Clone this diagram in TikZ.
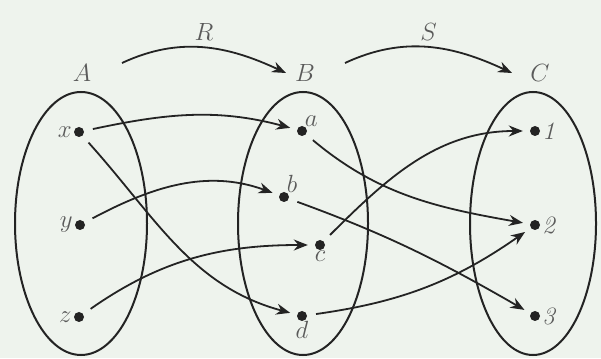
\documentclass[tikz,border=0pt]{standalone}
\usetikzlibrary{arrows.meta}
\definecolor{bg}{RGB}{238,243,237}
\definecolor{ink}{RGB}{35,35,35}
\begin{document}
\begin{tikzpicture}[x=1pt,y=1pt,
  set/.style={draw=ink,line width=2pt},
  pt/.style={circle,fill=ink,inner sep=0pt,minimum size=10pt},
  lab/.style={font=\fontsize{25}{30}\selectfont,text=ink!75},
  arr/.style={draw=ink,line width=1.8pt,-{Stealth[length=14pt,width=11pt]},shorten <=9pt,shorten >=7pt},
  every label/.style={lab,inner sep=2pt}]
\fill[bg] (0,0) rectangle (601,358);
\useasboundingbox (0,0) rectangle (601,358);
% sets
\draw[set] (81,134.5) ellipse [x radius=66,y radius=131.5];
\draw[set] (303,134.5) ellipse [x radius=65,y radius=131.5];
\draw[set] (533,134.5) ellipse [x radius=63,y radius=131.5];
\node[lab] (A) at (82,285) {$A$};
\node[lab] (B) at (305,285) {$B$};
\node[lab] (C) at (540,285) {$C$};
% points
\node[pt,label={left:$x$}] (x) at (79,226) {};
\node[pt,label={left:$y$}] (y) at (80,133) {};
\node[pt,label={left:$z$}] (z) at (79,41) {};
\node[pt,label={[inner sep=0pt]60:$a$}] (a) at (302,227) {};
\node[pt,label={[inner sep=0pt]60:$b$}] (b) at (284,161) {};
\node[pt,label={[inner sep=0pt]below:$c$}] (c) at (320,113) {};
\node[pt,label={[inner sep=0pt]below:$d$}] (d) at (302,42) {};
\node[pt,label={right:\textit{1}}] (n1) at (535,227) {};
\node[pt,label={right:\textit{2}}] (n2) at (535,133) {};
\node[pt,label={right:\textit{3}}] (n3) at (535,42) {};
% relation arrows
\coordinate (r1) at (122,295);
\coordinate (r2) at (286,285);
\coordinate (s1) at (345,295);
\coordinate (s2) at (512,285);
\draw[draw=ink,line width=1.8pt,-{Stealth[length=14pt,width=11pt]}] (r1) to[out=25,in=155] node[lab,above=3pt] (R) {$R$} (r2);
\draw[draw=ink,line width=1.8pt,-{Stealth[length=14pt,width=11pt]}] (s1) to[out=25,in=155] node[lab,above=3pt] (S) {$S$} (s2);
% mappings
\draw[arr] (x) to[out=12,in=165] (a);
\draw[arr] (x) to[out=-48,in=165] (d);
\draw[arr] (y) to[out=28,in=160] (b);
\draw[arr] (z) to[out=35,in=180] (c);
\draw[arr] (a) to[out=-40,in=170] (n2);
\draw[arr] (b) to[out=-20,in=150] (n3);
\draw[arr] (c) to[out=45,in=180] (n1);
\draw[arr] (d) to[out=8,in=215] (n2);
\end{tikzpicture}
\end{document}
